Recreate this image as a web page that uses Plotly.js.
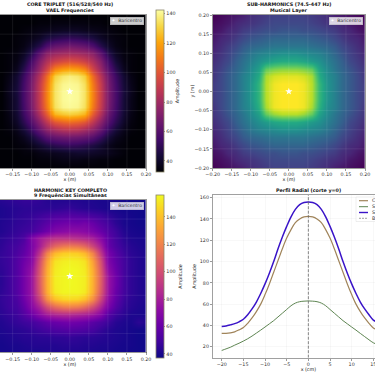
<!DOCTYPE html>
<html>
<head>
<meta charset="utf-8">
<script src="https://cdn.plot.ly/plotly-3.0.1.min.js"></script>
<style>
html,body{margin:0;padding:0;background:#fff;overflow:hidden;width:375px;height:375px}
#chart{position:absolute;left:-10px;top:0;width:440px;height:375px}
</style>
</head>
<body>
<div id="chart"></div>
<script>
var gridX = [-0.20,-0.18,-0.16,-0.14,-0.12,-0.10,-0.08,-0.06,-0.04,-0.02,0,0.02,0.04,0.06,0.08,0.10,0.12,0.14,0.16,0.18,0.20];
var gridY = gridX.slice();

// rows listed from y=+0.20 (top) down to y=-0.20 (bottom)
var coreRows = [
[33,33,33,33,33,33,33,33,33,33,33,33,33,33,33,33,33,33,33,33,33],
[33,33,33,33,33,33,34,34,35,35,35,35,35,34,34,33,33,33,33,33,33],
[33,33,33,33,34,35,36,37,38,39,39,39,38,37,36,35,34,33,33,33,33],
[33,33,33,34,35,37,40,45,48,50,51,50,48,45,40,37,35,34,33,33,33],
[33,33,33,34,36,41,48,58,64,66,68,66,64,58,48,41,36,34,33,33,33],
[33,33,34,35,39,48,62,74,78,80,81,80,78,74,62,48,39,35,34,33,33],
[33,33,34,36,43,56,72,84,92,96,98,96,92,84,72,56,43,36,34,33,33],
[33,33,34,38,48,62,78,94,112,118,120,118,112,94,78,62,48,38,34,33,33],
[33,33,36,42,53,68,86,106,130,136,138,136,130,106,86,68,53,42,36,33,33],
[33,33,37,43,55,70,90,110,134,140,141,140,134,110,90,70,55,43,37,33,33],
[33,33,38,44,56,71,91,112,135,141,142,141,135,112,91,71,56,44,38,33,33],
[33,33,37,43,56,71,91,112,135,141,142,141,135,112,91,71,56,43,37,33,33],
[33,33,37,43,55,70,90,110,134,140,141,140,134,110,90,70,55,43,37,33,33],
[33,33,36,42,53,66,84,102,124,128,130,128,124,102,84,66,53,42,36,33,33],
[33,33,35,40,49,60,74,88,100,104,106,104,100,88,74,60,49,40,35,33,33],
[33,33,34,37,43,52,64,74,80,84,85,84,80,74,64,52,43,37,34,33,33],
[33,33,33,35,38,44,52,60,64,66,67,66,64,60,52,44,38,35,33,33,33],
[33,33,33,34,35,38,42,46,49,51,52,51,49,46,42,38,35,34,33,33,33],
[33,33,33,33,34,34,36,37,38,39,40,41,41,40,39,38,36,34,33,33,33],
[33,33,33,33,33,33,34,34,35,36,36,36,35,35,34,34,33,33,33,33,33],
[33,33,33,33,33,33,33,33,33,33,33,33,33,33,33,33,33,33,33,33,33]
];
var subRows = [
[17,18,19,20,21,23,24,25,26,26,26,26,26,25,24,23,21,20,19,18,17],
[18,19,20,22,23,24,25,26,27,27,27,27,27,26,25,24,23,22,20,19,18],
[19,20,22,23,25,26,27,28,28,29,29,29,28,28,27,26,25,23,22,20,19],
[20,22,23,25,27,29,30,31,32,32,32,32,32,31,30,29,27,25,23,22,20],
[21,23,25,27,30,32,33,34,35,35,35,35,35,34,33,32,30,27,25,23,21],
[22,24,26,29,32,35,37,38,39,40,40,40,39,38,37,35,32,29,26,24,22],
[23,25,27,31,34,37,40,42,44,45,45,45,44,42,40,37,34,31,27,25,23],
[24,26,29,32,35,39,43,52,54,55,55,55,54,52,43,39,35,32,29,26,24],
[24,27,30,33,37,40,45,57,60,61,61,61,60,57,45,40,37,33,30,27,24],
[25,27,30,33,37,41,47,58,62,63,63,63,62,58,47,41,37,33,30,27,25],
[25,27,30,33,37,41,47,58,62,63,63,63,62,58,47,41,37,33,30,27,25],
[25,27,30,33,37,41,47,58,62,63,63,63,62,58,47,41,37,33,30,27,25],
[24,27,30,33,37,40,46,57,62,63,63,63,62,57,46,40,37,33,30,27,24],
[24,26,29,32,35,39,43,52,56,58,58,58,56,52,43,39,35,32,29,26,24],
[23,25,27,31,34,37,40,42,44,45,45,45,44,42,40,37,34,31,27,25,23],
[22,24,26,29,32,35,37,38,39,40,40,40,39,38,37,35,32,29,26,24,22],
[21,23,25,27,30,32,33,34,35,35,35,35,35,34,33,32,30,27,25,23,21],
[20,22,23,25,27,29,30,31,32,32,32,32,32,31,30,29,27,25,23,22,20],
[19,20,22,23,25,26,27,28,28,29,29,29,28,28,27,26,25,23,22,20,19],
[18,19,20,22,23,24,25,26,27,27,27,27,27,26,25,24,23,22,20,19,18],
[17,18,19,20,21,23,24,25,26,26,26,26,26,25,24,23,21,20,19,18,17]
];
var keyRows = [
[42,43,44,45,46,46,45,43,42,42,42,42,41,41,40,40,39,39,38,38,38],
[40,41,42,43,44,44,44,44,44,45,46,44,43,42,41,40,39,38,38,38,38],
[40,41,42,44,45,46,48,50,52,53,54,53,52,50,48,45,42,40,39,38,38],
[40,42,43,45,46,48,52,56,60,62,63,62,64,60,54,50,44,40,39,38,38],
[41,42,44,46,48,50,56,62,68,70,72,72,70,66,60,54,48,42,40,39,39],
[42,44,46,48,52,68,78,84,88,88,88,86,84,80,70,58,50,44,41,40,40],
[43,45,48,50,56,66,80,96,110,116,118,116,110,96,80,60,52,46,43,41,40],
[44,46,48,52,58,68,90,120,138,144,145,144,138,120,90,66,56,48,44,42,41],
[44,46,48,54,62,70,100,130,150,153,154,153,150,130,100,68,58,50,45,42,41],
[44,45,48,54,64,74,104,134,152,155,156,155,152,134,104,72,60,50,45,42,41],
[42,44,48,54,64,76,106,135,153,155,156,155,153,135,106,76,62,50,45,42,41],
[42,44,48,54,64,76,106,135,153,155,156,155,153,135,106,76,62,50,45,42,41],
[42,45,48,54,64,76,104,134,152,155,155,155,152,134,104,76,60,50,45,42,41],
[43,46,48,52,62,74,96,124,140,146,147,146,140,124,96,72,58,48,44,42,41],
[43,45,48,50,58,70,82,98,110,116,118,116,110,98,82,66,54,46,43,41,40],
[42,44,46,48,54,62,72,80,84,86,86,84,82,78,70,56,48,44,41,40,40],
[41,42,44,46,48,50,54,58,60,62,63,62,60,56,52,48,43,41,40,44,42],
[40,41,42,43,44,46,48,50,52,53,54,53,52,50,46,43,41,40,39,38,38],
[40,40,41,42,43,43,44,44,45,45,46,45,44,44,43,42,41,40,39,38,38],
[39,39,40,40,41,42,42,42,42,43,43,43,42,42,41,41,40,39,39,38,38],
[39,39,39,40,40,40,40,41,41,41,41,41,41,40,40,40,39,39,38,38,38]
];

var profileX = [-20,-19,-18,-17,-16,-15,-14,-13,-12,-11,-10,-9,-8,-7,-6,-5,-4,-3,-2,-1,0,1,2,3,4,5,6,7,8,9,10,11,12,13,14,15,16,17,18,19,20];
var profileCore = [32.5,32.5,33,34,35.8,38,42,47,53,60,69,79,90,101,112,122,130,136.5,140,142,142.5,142,140,136.5,130,122,112,101,90,79,69,60,53,47,42,37.5,35.5,34,33,32.5,32.5];
var profileSub = [16.5,18,19.5,21.5,23.3,25.3,27.5,30,32.8,35.6,38.5,41.5,44.5,48,51.5,55,58.5,61,62.3,62.8,63,62.8,62.3,61,58.5,55,51.5,48,44.5,41.5,38.5,35.6,32.5,29.5,26.5,23.7,22,20.5,19,17.8,16.5];
var profileKey = [39,39.5,40.5,41.7,43.4,45.8,50,55.5,62,70,79,89,100,112,123,133,142,149,153.5,155.5,156,155.5,153.5,149,142,133,123,112,100,89,79,70,62,55.5,50,45,43,41.7,40.5,39.5,39];
var profileNames = ["Core Triplet","Sub-harmonics","Soma Total"];
var markerName = "Baricentro";
var axisTicks = [-0.20,-0.15,-0.10,-0.05,0,0.05,0.10,0.15,0.20];
var axisTickText = ["\u22120.20","\u22120.15","\u22120.10","\u22120.05","0.00","0.05","0.10","0.15","0.20"];
var barTicks1 = [40,60,80,100,120,140];
var barTicks3 = [40,60,80,100,120,140];
var titleCore = ["CORE TRIPLET (516/528/540 Hz)","VAEL Frequencies"];
var titleSub = ["SUB-HARMONICS (74.5-447 Hz)","Musical Layer"];
var titleKey = ["HARMONIC KEY COMPLETO","9 Frequ\u00eancias Simult\u00e2neas"];
var titleProfile = ["Perfil Radial (corte y=0)"];

var inferno = [[0,"#000004"],[0.1,"#160b39"],[0.2,"#420a68"],[0.3,"#6a176e"],[0.4,"#932667"],[0.5,"#bc3754"],[0.6,"#dd513a"],[0.7,"#f37819"],[0.8,"#fca50a"],[0.9,"#f6d746"],[1,"#fcffa4"]];
var plasma = [[0,"#0d0887"],[0.1,"#41049d"],[0.2,"#6a00a8"],[0.3,"#8f0da4"],[0.4,"#b12a90"],[0.5,"#cc4778"],[0.6,"#e16462"],[0.7,"#f1844b"],[0.8,"#fca636"],[0.9,"#fccd25"],[1,"#f0f921"]];
var viridis = [[0,"#440154"],[0.1,"#482475"],[0.2,"#414487"],[0.3,"#355f8d"],[0.4,"#2a788e"],[0.5,"#21908d"],[0.6,"#22a884"],[0.7,"#42be71"],[0.8,"#7ad151"],[0.9,"#bddf26"],[1,"#fde725"]];

var W = 440, H = 375, OFF = 10;
function px(x){ return (x + OFF) / W; }
function py(y){ return 1 - y / H; }
function domX(a,b){ return [px(a), px(b)]; }
function domY(top,bot){ return [py(bot), py(top)]; }

var font = "DejaVu Sans, sans-serif";
var tickFont = {family:font, size:4.8, color:"#333"};
var axisTitleFont = {family:font, size:4.8, color:"#222"};

function heat(rows, xa, ya, cs, zmin, zmax, bar){
  var t = {type:"heatmap", x:gridX, y:gridY, z:rows.slice().reverse(), xaxis:xa, yaxis:ya,
    colorscale:cs, zmin:zmin, zmax:zmax, zsmooth:"best", hoverinfo:"skip", showscale:!!bar};
  if(bar){ t.colorbar = bar; }
  return t;
}
function colorbar(top, bot, ticks){
  return {x:px(156), xanchor:"left", thickness:8, thicknessmode:"pixels",
    y:py((top+bot)/2), yanchor:"middle", len:bot-top, lenmode:"pixels", xpad:0, ypad:0,
    outlinecolor:"#8a8468", outlinewidth:0.8, tickmode:"array", tickvals:ticks, ticktext:ticks.map(String),
    ticks:"outside", ticklen:1.5, tickwidth:0.5, tickcolor:"#333", tickfont:tickFont,
    title:{text:"Amplitude", side:"right", font:axisTitleFont}};
}
function centerMark(xa, ya){
  return {type:"scatter", mode:"markers", x:[0], y:[0], xaxis:xa, yaxis:ya, name:markerName, showlegend:false,
    hoverinfo:"skip", marker:{symbol:"star", size:5.5, color:"#fff", line:{width:0}}};
}
function line(y, color, width, name){
  return {type:"scatter", mode:"lines", x:profileX, y:y, xaxis:"x4", yaxis:"y4", name:name, showlegend:false,
    line:{color:color, width:width, shape:"spline"}, hoverinfo:"skip"};
}
var colCore = "#a0845a", colSub = "#5e8552", colKey = "#3a14c8";

var data = [
  heat(coreRows,"x","y",inferno,32.5,142.5,colorbar(10,172,barTicks1)),
  centerMark("x","y"),
  heat(subRows,"x2","y2",viridis,17,63,null),
  centerMark("x2","y2"),
  heat(keyRows,"x3","y3",plasma,37,156,colorbar(195,358,barTicks3)),
  centerMark("x3","y3"),
  line(profileCore,colCore,1.2,profileNames[0]),
  line(profileSub,colSub,1,profileNames[1]),
  line(profileKey,colKey,1.5,profileNames[2]),
  {type:"scatter", mode:"lines", x:[0,0], y:[9.7,162.5], xaxis:"x4", yaxis:"y4", name:markerName, showlegend:false,
   line:{color:"#666", width:0.8, dash:"3px,1.5px"}, hoverinfo:"skip"}
];

function xAxis(a,b,anchor,title){
  return {domain:domX(a,b), anchor:anchor, range:[-0.2,0.2], tickmode:"array", tickvals:axisTicks, ticktext:axisTickText,
    ticks:"outside", ticklen:2, tickwidth:0.5, tickcolor:"#333", tickfont:tickFont, showgrid:false, zeroline:false,
    showline:true, mirror:true, linecolor:"#555", linewidth:0.6, title:{text:title, font:axisTitleFont, standoff:1}};
}
function yAxis(top,bot,anchor,labels){
  return {domain:domY(top,bot), anchor:anchor, range:[-0.2,0.2], tickmode:"array", tickvals:axisTicks, ticktext:axisTickText,
    showticklabels:labels, ticks:labels?"outside":"", ticklen:2, tickwidth:0.5, tickcolor:"#333", tickfont:tickFont, showgrid:false, zeroline:false,
    showline:true, mirror:true, linecolor:"#555", linewidth:0.6};
}

var shapes = [];
[["x","y"],["x2","y2"],["x3","y3"]].forEach(function(p){
  axisTicks.slice(1,-1).forEach(function(v){
    shapes.push({type:"line", xref:p[0], yref:p[1], x0:v, x1:v, y0:-0.2, y1:0.2, line:{color:"rgba(255,255,255,0.17)", width:0.5}});
    shapes.push({type:"line", xref:p[0], yref:p[1], x0:-0.2, x1:0.2, y0:v, y1:v, line:{color:"rgba(255,255,255,0.17)", width:0.5}});
  });
});
// legend frame and line keys of the profile panel
shapes.push({type:"rect", xref:"paper", yref:"paper", x0:px(356), x1:px(410), y0:py(221.5), y1:py(197), fillcolor:"rgba(255,255,255,0.85)", line:{color:"#ddd", width:0.5}});
[[200.7,colCore,1.2],[206.7,colSub,1],[212.5,colKey,1.4],[218.3,"#777",0.7]].forEach(function(k,i){
  shapes.push({type:"line", xref:"paper", yref:"paper", x0:px(359), x1:px(368), y0:py(k[0]), y1:py(k[0]),
    line:{color:k[1], width:k[2], dash:i==3?"2px,1px":"solid"}});
});

function titleLines(cx, ys, lines){
  return lines.map(function(t,i){
    return {xref:"paper", yref:"paper", x:px(cx), y:py(ys[i]), xanchor:"center", yanchor:"middle", showarrow:false,
      text:"<b>"+t+"</b>", font:{family:font, size:4.8, color:"#111"}, borderpad:0};
  });
}
function markLegend(right, top){
  return {xref:"paper", yref:"paper", x:px(right), y:py(top), xanchor:"right", yanchor:"top", showarrow:false,
    text:'<span style="color:#fff">\u2726</span>  '+markerName, font:{family:font, size:4.6, color:"#333"},
    bgcolor:"rgba(255,255,255,0.8)", bordercolor:"#ccc", borderwidth:0.4, borderpad:1};
}
var annotations = [].concat(
  titleLines(70,[5,11],titleCore),
  titleLines(289,[5,11],titleSub),
  titleLines(70,[190,196],titleKey),
  titleLines(308,[191],titleProfile),
  [markLegend(144,17), markLegend(363,17), markLegend(144,202)],
  [{xref:"paper", yref:"paper", x:px(192), y:py(91.5), xanchor:"center", yanchor:"middle", showarrow:false, textangle:-90,
    text:"y (m)", font:axisTitleFont, borderpad:0}]
);
[profileNames[0],profileNames[1],profileNames[2],markerName].forEach(function(n,i){
  annotations.push({xref:"paper", yref:"paper", x:px(371), y:py([200.7,206.7,212.5,218.3][i]), xanchor:"left", yanchor:"middle",
    showarrow:false, text:n, font:{family:font, size:4.8, color:"#333"}, borderpad:0});
});

var layout = {
  width:W, height:H, margin:{l:0,r:0,t:0,b:0}, paper_bgcolor:"#fff", plot_bgcolor:"#fff", showlegend:false,
  font:{family:font, size:5, color:"#333"},
  xaxis:xAxis(-6.4,146,"y","x (m)"),
  yaxis:yAxis(15,168,"x",false),
  xaxis2:xAxis(212.7,365,"y2","x (m)"),
  yaxis2:yAxis(15,168,"x2",true),
  xaxis3:xAxis(-6.4,146,"y3","x (m)"),
  yaxis3:yAxis(200,352.5,"x3",false),
  xaxis4:{domain:domX(212.7,404), anchor:"y4", range:[-22.08,22.08], tickmode:"array", tickvals:[-20,-15,-10,-5,0,5,10,15],
    ticktext:["\u221220","\u221215","\u221210","\u22125","0","5","10","15"], ticks:"outside", ticklen:2, tickwidth:0.5, tickcolor:"#333", tickfont:tickFont,
    showgrid:true, gridcolor:"rgba(0,0,0,0.07)", gridwidth:0.4, zeroline:false, showline:true, mirror:true, linecolor:"#888", linewidth:0.8,
    title:{text:"x (cm)", font:axisTitleFont, standoff:1}},
  yaxis4:{domain:domY(195,357.7), anchor:"x4", range:[9.7,162.5], tickmode:"array", tickvals:[20,40,60,80,100,120,140,160],
    ticktext:["20","40","60","80","100","120","140","160"], ticks:"outside", ticklen:2, tickwidth:0.5, tickcolor:"#333", tickfont:tickFont,
    showgrid:true, gridcolor:"rgba(0,0,0,0.07)", gridwidth:0.4, zeroline:false, showline:true, mirror:true, linecolor:"#888", linewidth:0.8,
    title:{text:"Amplitude", font:axisTitleFont, standoff:2}},
  shapes:shapes, annotations:annotations
};

Plotly.newPlot("chart", data, layout, {displayModeBar:false, staticPlot:true});
</script>
</body>
</html>
